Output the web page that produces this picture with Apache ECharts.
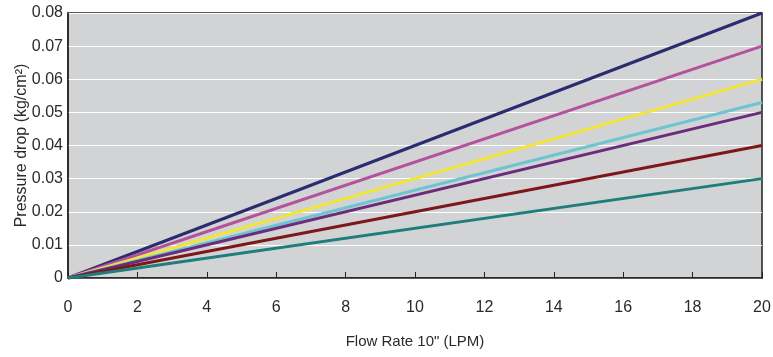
<!DOCTYPE html>
<html><head><meta charset="utf-8">
<script src="https://cdn.jsdelivr.net/npm/echarts@6/dist/echarts.min.js"></script>
<style>html,body{margin:0;padding:0;background:#fff}#c{width:773px;height:357px}</style>
</head><body><div id="c"></div>
<script>
const xValues = [0, 20];
const seriesNames = ['A', 'B', 'C', 'D', 'E', 'F', 'G'];
const endValues = [0.08, 0.07, 0.06, 0.053, 0.05, 0.04, 0.03];
const startValues = [0, 0, 0, 0, 0, 0, 0];
const colors = ['#2b2b70', '#b4539b', '#eee53f', '#6fc4d2', '#6c2b7c', '#7d1719', '#1f7e7b'];
const xTicks = [0, 2, 4, 6, 8, 10, 12, 14, 16, 18, 20];
const yTicks = [0, 0.01, 0.02, 0.03, 0.04, 0.05, 0.06, 0.07, 0.08];

const chart = echarts.init(document.getElementById('c'));
const font = 'Liberation Sans';
chart.setOption({
  animation: false,
  grid: {left: 68, right: 11, top: 13, bottom: 79, show: true, outerBoundsMode: 'none', containLabel: false,
    backgroundColor: '#d1d3d4', borderColor: '#222', borderWidth: 1.5},
  xAxis: {
    type: 'value', min: 0, max: 20, interval: 2,
    name: 'Flow Rate 10" (LPM)', nameLocation: 'middle', nameGap: 56, nameMoveOverlap: false,
    nameTextStyle: {fontFamily: font, fontSize: 15, color: '#2a2a2a'},
    axisLine: {lineStyle: {color: '#222', width: 1.5}},
    axisTick: {inside: true, length: 6, lineStyle: {color: '#222'}},
    axisLabel: {fontFamily: font, fontSize: 16, color: '#2a2a2a', margin: 22},
    splitLine: {show: false}
  },
  yAxis: {
    type: 'value', min: 0, max: 0.08, interval: 0.01,
    name: 'Pressure drop (kg/cm²)', nameLocation: 'middle', nameGap: 38, nameRotate: 90, nameMoveOverlap: false,
    nameTextStyle: {fontFamily: font, fontSize: 16, color: '#2a2a2a'},
    axisLine: {show: true, lineStyle: {color: '#222', width: 1.5}},
    axisTick: {show: false},
    axisLabel: {fontFamily: font, fontSize: 16, color: '#2a2a2a', margin: 5,
      formatter: v => v === 0 ? '0' : v.toFixed(2)},
    splitLine: {show: true, lineStyle: {color: '#ffffff', width: 1.2}}
  },
  series: seriesNames.map((n, i) => ({
    name: n, type: 'line', symbol: 'none',
    lineStyle: {color: colors[i], width: 3},
    data: xValues.map((x, j) => [x, j === 0 ? startValues[i] : endValues[i]])
  }))
});
</script></body></html>
